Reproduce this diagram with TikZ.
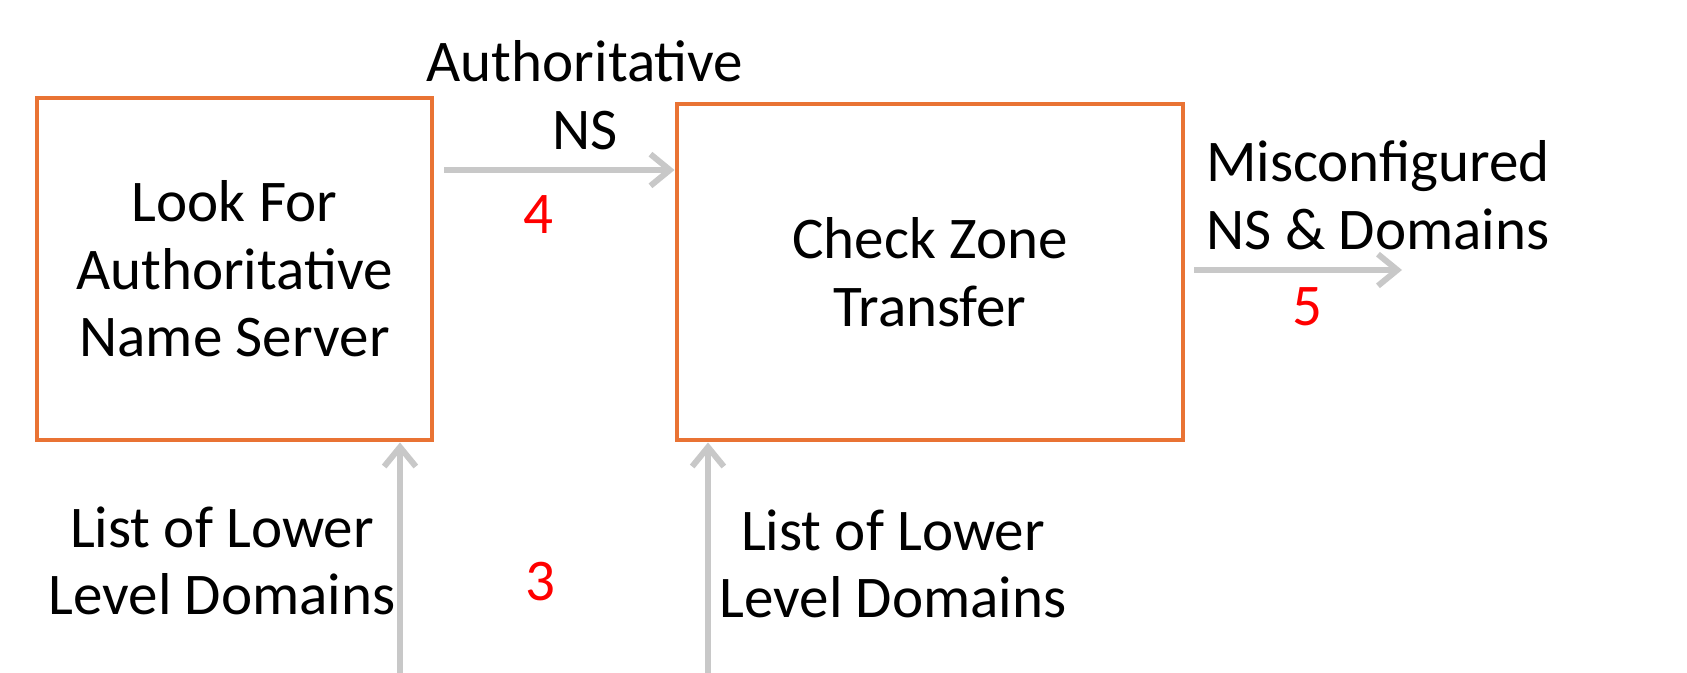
\documentclass[tikz,border=0pt]{standalone}
\usepackage{fontspec}
\setmainfont{Carlito}
\usetikzlibrary{arrows.meta}
\definecolor{boxorange}{RGB}{233,115,52}
\definecolor{arrowgray}{RGB}{200,200,200}
\definecolor{numred}{RGB}{255,0,0}
\begin{document}
\begin{tikzpicture}[x=0.01cm,y=-0.01cm,
  stepbox/.style={draw=boxorange,line width=1.4pt,align=center,inner sep=0pt,
    font=\fontsize{16.8}{19.2}\selectfont},
  lbl/.style={align=center,inner sep=0pt,font=\fontsize{16.8}{19.2}\selectfont},
  num/.style={inner sep=0pt,text=numred,font=\fontsize{16.8}{19.2}\selectfont},
  flow/.style={draw=arrowgray,line width=1.7pt,-{Straight Barb[length=5.5pt,width=9pt]}}]
\useasboundingbox (0,0) rectangle (1687,673);
\node[stepbox,minimum width=395*0.01cm,minimum height=342*0.01cm] (look) at (234.5,269)
  {Look For\\Authoritative\\Name Server};
\node[stepbox,minimum width=506*0.01cm,minimum height=336*0.01cm] (zone) at (930,272)
  {Check Zone\\Transfer};
\node[lbl] (authns) at (585,95) {Authoritative\\NS};
\node[num] (n4) at (538,215) {4};
\node[lbl] (misc) at (1378,195) {Misconfigured\\NS \& Domains};
\node[num] (n5) at (1307,307) {5};
\node[lbl] (list1) at (222,561) {List of Lower\\Level Domains};
\node[num] (n3) at (540,582) {3};
\node[lbl] (list2) at (893,564) {List of Lower\\Level Domains};
\coordinate (in1) at (400,673);
\coordinate (in2) at (708,673);
\coordinate (out5) at (1402,270);
\draw[flow] ([xshift=10*0.01cm]look.east |- 0,170) -- (zone.west |- 0,170);
\draw[flow] ([xshift=9*0.01cm]zone.east |- 0,270) -- (out5);
\draw[flow] (in1) -- (in1 |- look.south);
\draw[flow] (in2) -- (in2 |- zone.south);
\end{tikzpicture}
\end{document}
